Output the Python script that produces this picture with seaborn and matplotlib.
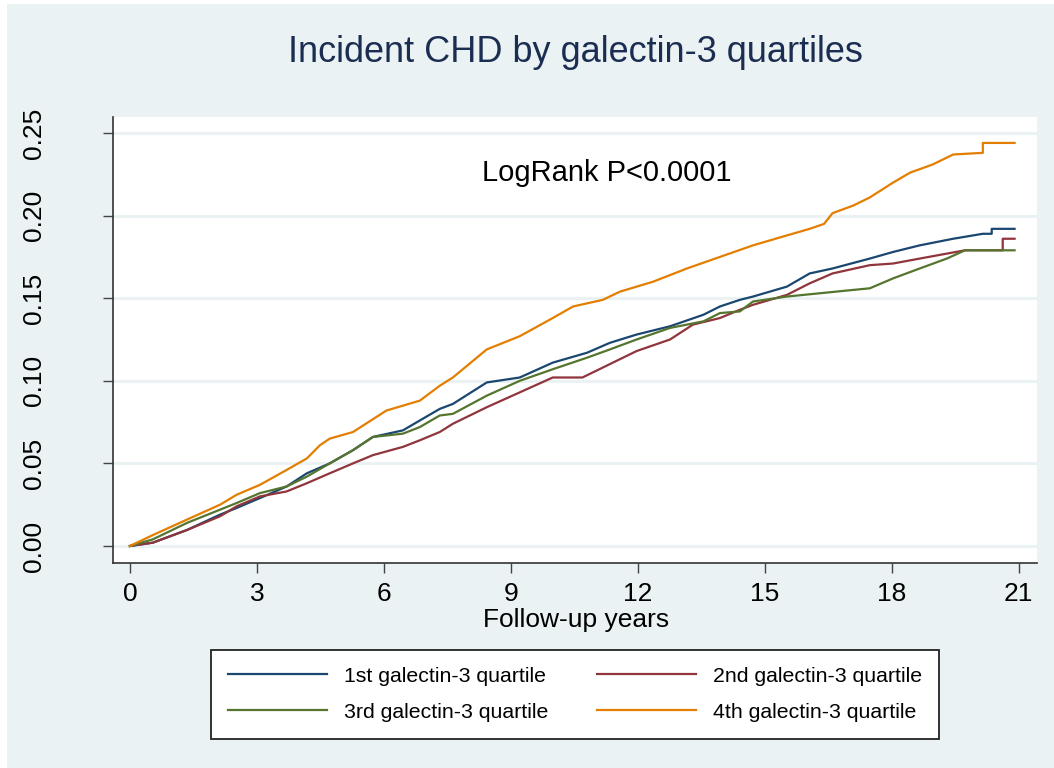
"""
Incident CHD by galectin-3 quartiles (Kaplan-Meier style cumulative incidence)
"""

import pandas as pd
import matplotlib
matplotlib.use('Agg')
import matplotlib.pyplot as plt
import seaborn as sns

# --- Data ---
labels = ['1st galectin-3 quartile', '2nd galectin-3 quartile',
          '3rd galectin-3 quartile', '4th galectin-3 quartile']

q1_years = [0, 0.54, 1.35, 2.13, 2.52, 3.07, 3.7, 4.18, 4.72, 5.27, 5.74, 6.45, 6.85, 7.32,
            7.63, 8.43, 9.21, 9.99, 10.8, 11.34, 11.97, 12.76, 13.55, 13.94, 14.41, 14.72,
            15.52, 16.06, 16.6, 17.48, 18.03, 18.66, 19.45, 20.15, 20.36, 20.36, 20.9]
q1_inc = [0, 0.002, 0.0097, 0.019, 0.023, 0.029, 0.036, 0.044, 0.050, 0.058, 0.066, 0.070,
          0.076, 0.083, 0.086, 0.099, 0.102, 0.111, 0.117, 0.123, 0.128, 0.133, 0.140, 0.145,
          0.149, 0.151, 0.157, 0.165, 0.168, 0.174, 0.178, 0.182, 0.186, 0.189, 0.189, 0.192, 0.192]

q2_years = [0, 0.54, 1.35, 2.13, 2.52, 3.07, 3.7, 4.18, 4.72, 5.27, 5.74, 6.45, 6.85, 7.32,
            7.63, 8.43, 9.21, 9.99, 10.69, 11.17, 11.97, 12.76, 13.3, 13.94, 14.41, 14.72,
            15.52, 16.06, 16.6, 17.48, 18.03, 18.66, 19.3, 19.73, 20.62, 20.62, 20.9]
q2_inc = [0, 0.002, 0.0097, 0.018, 0.024, 0.030, 0.033, 0.038, 0.044, 0.050, 0.055, 0.060,
          0.064, 0.069, 0.074, 0.084, 0.093, 0.102, 0.102, 0.108, 0.118, 0.125, 0.134, 0.138,
          0.143, 0.146, 0.152, 0.159, 0.165, 0.170, 0.171, 0.174, 0.177, 0.179, 0.179, 0.186, 0.186]

q3_years = [0, 0.54, 1.35, 2.13, 2.52, 3.07, 3.7, 4.18, 4.72, 5.27, 5.74, 6.45, 6.85, 7.32,
            7.63, 8.43, 9.21, 9.99, 10.8, 11.34, 11.97, 12.76, 13.55, 13.94, 14.41, 14.72,
            15.52, 16.3, 17.08, 17.48, 18.03, 18.66, 19.3, 19.73, 20.9]
q3_inc = [0, 0.004, 0.014, 0.022, 0.026, 0.032, 0.036, 0.042, 0.050, 0.058, 0.066, 0.068,
          0.072, 0.079, 0.080, 0.091, 0.100, 0.107, 0.114, 0.119, 0.125, 0.132, 0.136, 0.141,
          0.142, 0.148, 0.151, 0.153, 0.155, 0.156, 0.162, 0.168, 0.174, 0.179, 0.179]

q4_years = [0, 0.54, 1.35, 2.13, 2.52, 3.07, 3.7, 4.18, 4.49, 4.72, 5.27, 6.06, 6.85, 7.32,
            7.63, 8.43, 9.21, 9.99, 10.47, 11.17, 11.58, 12.36, 13.16, 13.94, 14.72, 15.52,
            16.06, 16.4, 16.6, 17.08, 17.48, 18.03, 18.43, 18.97, 19.45, 20.15, 20.15, 20.9]
q4_inc = [0, 0.0066, 0.016, 0.025, 0.031, 0.037, 0.046, 0.053, 0.061, 0.065, 0.069, 0.082,
          0.088, 0.097, 0.102, 0.119, 0.127, 0.138, 0.145, 0.149, 0.154, 0.160, 0.168, 0.175,
          0.182, 0.188, 0.192, 0.195, 0.2015, 0.206, 0.211, 0.220, 0.226, 0.231, 0.237, 0.238,
          0.244, 0.244]

x_ticks = [0, 3, 6, 9, 12, 15, 18, 21]
y_ticks = [0.00, 0.05, 0.10, 0.15, 0.20, 0.25]

colors = ['#1a476f', '#90353b', '#55752f', '#e37e00']
bg = '#eaf2f3'

# --- Long-format frame for seaborn ---
frames = []
for lab, xs, ys in zip(labels, [q1_years, q2_years, q3_years, q4_years],
                       [q1_inc, q2_inc, q3_inc, q4_inc]):
    frames.append(pd.DataFrame({'years': xs, 'incidence': ys, 'group': lab}))
df = pd.concat(frames, ignore_index=True)

plt.rcParams['font.family'] = ['Liberation Sans', 'DejaVu Sans']

fig = plt.figure(figsize=(10.54, 7.68), dpi=100, facecolor='white')
# light graph region, leaving the thin white margin at top/left like the original
fig.patches.append(plt.Rectangle((7 / 1054, 0), 1, 1 - 4 / 768, transform=fig.transFigure,
                                 facecolor=bg, edgecolor='none', zorder=-10))
ax = fig.add_axes([113 / 1054, 1 - 563 / 768, (1037 - 113) / 1054, (563 - 117) / 768])
ax.set_zorder(1)
ax.set_facecolor('white')

sns.lineplot(data=df, x='years', y='incidence', hue='group', hue_order=labels,
             palette=dict(zip(labels, colors)), estimator=None, sort=False,
             units='group', linewidth=1.6, legend=False, ax=ax)

ax.set_xlim(-0.40, 21.43)
ax.set_ylim(-0.0103, 0.2597)
ax.set_xticks(x_ticks)
ax.set_yticks(y_ticks)
ax.set_yticklabels([f'{v:.2f}' for v in y_ticks], rotation=90, va='center')
ax.tick_params(axis='both', labelsize=19, length=7, width=1, color='#444444',
               labelcolor='black')
ax.tick_params(axis='x', pad=7)
ax.tick_params(axis='y', pad=41)
for s in ['top', 'right']:
    ax.spines[s].set_visible(False)
for s in ['left', 'bottom']:
    ax.spines[s].set_color('#333333')
    ax.spines[s].set_linewidth(1.2)
ax.grid(axis='y', color=bg, linewidth=2.2)
ax.grid(axis='x', visible=False)
ax.set_axisbelow(True)
ax.set_xlabel('')
ax.set_ylabel('')

fig.text(576 / 1054, 1 - 620 / 768, 'Follow-up years', fontsize=19,
         ha='center', va='center')

ax.text(11.27, 0.226, 'LogRank P<0.0001', fontsize=21, ha='center', va='center')

fig.text(575 / 1054, 1 - 52 / 768, 'Incident CHD by galectin-3 quartiles',
         fontsize=26, color='#1c2d52', ha='center', va='center')

# row-major order as in the original legend
lines = ax.get_lines()[:4]
order = [0, 2, 1, 3]
leg = fig.legend(handles=[lines[i] for i in order], labels=[labels[i] for i in order],
                 ncol=2, loc='center', bbox_to_anchor=(575 / 1054, 1 - 694 / 768),
                 fontsize=15.3, handlelength=4.65, handletextpad=0.8,
                 columnspacing=2.3, labelspacing=0.8, borderpad=0.8,
                 fancybox=False, frameon=True, framealpha=1)
leg.get_frame().set_edgecolor('#222222')
leg.get_frame().set_linewidth(1.3)
leg.get_frame().set_facecolor('white')

fig.savefig('out.png', dpi=100, facecolor=fig.get_facecolor())
